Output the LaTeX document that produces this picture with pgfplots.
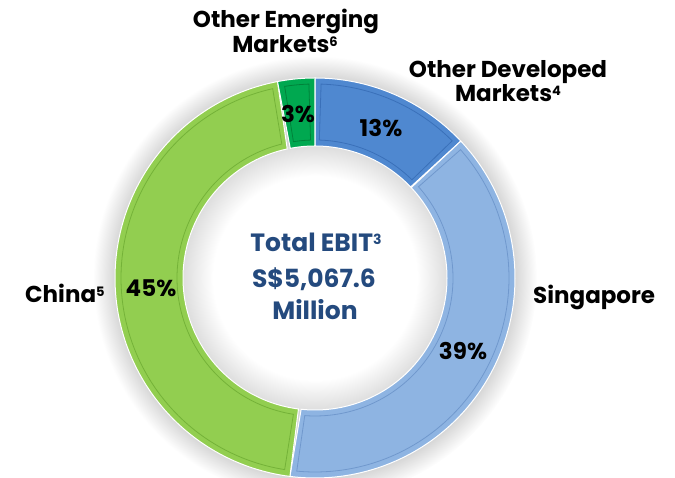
\documentclass[border=0pt]{standalone}
\usepackage{fontspec}
\setmainfont{Poppins}
\usepackage{pgfplots}
\pgfplotsset{compat=1.18}

\definecolor{odm}{RGB}{79,136,208}
\definecolor{odmEdge}{RGB}{58,112,185}
\definecolor{sgp}{RGB}{142,180,226}
\definecolor{sgpEdge}{RGB}{112,152,205}
\definecolor{chn}{RGB}{146,206,80}
\definecolor{chnEdge}{RGB}{116,178,56}
\definecolor{oem}{RGB}{0,168,80}
\definecolor{oemEdge}{RGB}{0,130,58}
\definecolor{ebit}{RGB}{36,74,126}

\pgfdeclareradialshading{holeshade}{\pgfpoint{0bp}{0bp}}{color(0bp)=(white); color(19bp)=(white); color(25bp)=(black!14); color(50bp)=(black!14)}
\pgfdeclareradialshading{glow}{\pgfpoint{0bp}{0bp}}{color(0bp)=(black!20); color(22.5bp)=(black!16); color(25bp)=(white); color(50bp)=(white)}

\newcommand\fnote[1]{\raisebox{6.5pt}{\fontsize{13}{13}\selectfont #1}}

% ring segment from #1 % to #2 % (clockwise from 12 o'clock)
\newcommand\seg[4]{%
  \addplot[fill=#3, draw=white, line width=1pt, domain=0:2, samples=241, variable=\t]
    ({315+ifthenelse(\t<1,200,132)*cos(90-3.6*ifthenelse(\t<1,#1+(#2-#1)*\t,#2-(#2-#1)*(\t-1)))},
     {200+ifthenelse(\t<1,200,132)*sin(90-3.6*ifthenelse(\t<1,#1+(#2-#1)*\t,#2-(#2-#1)*(\t-1)))}) -- cycle;
  \addplot[draw=#4, line width=0.8pt, domain=0:2, samples=241, variable=\t]
    ({315+ifthenelse(\t<1,194,138)*cos(90-3.6*ifthenelse(\t<1,#1+0.5+(#2-#1-1)*\t,#2-0.5-(#2-#1-1)*(\t-1)))},
     {200+ifthenelse(\t<1,194,138)*sin(90-3.6*ifthenelse(\t<1,#1+0.5+(#2-#1-1)*\t,#2-0.5-(#2-#1-1)*(\t-1)))}) -- cycle;
}

\begin{document}
\begin{tikzpicture}
\begin{axis}[
  x=1pt, y=1pt,
  xmin=0, xmax=675, ymin=0, ymax=478,
  hide axis, clip=false, no markers,
]
% soft shadow and hole
\addplot[draw=none, shading=glow, domain=0:360, samples=121] ({315+222*cos(x)},{200+222*sin(x)});
\addplot[draw=none, shading=holeshade, domain=0:360, samples=121] ({315+134*cos(x)},{200+134*sin(x)});

% shares: Other Developed 13, Singapore 39, China 45, Other Emerging 3
\seg{0}{13}{odm}{odmEdge}
\seg{13}{52}{sgp}{sgpEdge}
\seg{52}{97}{chn}{chnEdge}
\seg{97}{100}{oem}{oemEdge}

\begin{scope}[font=\fontsize{23}{27}\selectfont\bfseries, every node/.style={inner sep=0pt}]
\node[anchor=base] at (axis cs:381,341) {13\%};
\node[anchor=base] at (axis cs:463,118) {39\%};
\node[anchor=base] at (axis cs:151,181) {45\%};
\node[anchor=base] at (axis cs:298,355) {3\%};

\node[anchor=base] at (axis cs:286,450) {Other Emerging};
\node[anchor=base] at (axis cs:285,425) {Markets\fnote{6}};
\node[anchor=base] at (axis cs:508,400) {Other Developed};
\node[anchor=base] at (axis cs:508,376) {Markets\fnote{4}};
\node[anchor=base west] at (axis cs:25,175) {China\fnote{5}};
\node[anchor=base west] at (axis cs:533,174) {Singapore};
\end{scope}

\begin{scope}[font=\fontsize{25}{29}\selectfont\bfseries, every node/.style={inner sep=0pt}]
\node[anchor=base, text=ebit] at (axis cs:316,226) {Total EBIT\raisebox{7pt}{\fontsize{14}{14}\selectfont 3}};
\node[anchor=base, text=ebit] at (axis cs:314,190) {S\$5,067.6};
\node[anchor=base, text=ebit] at (axis cs:315,158) {Million};
\end{scope}
\end{axis}
\pgfresetboundingbox
\path (current axis.south west) rectangle (current axis.north east);
\end{tikzpicture}
\end{document}
